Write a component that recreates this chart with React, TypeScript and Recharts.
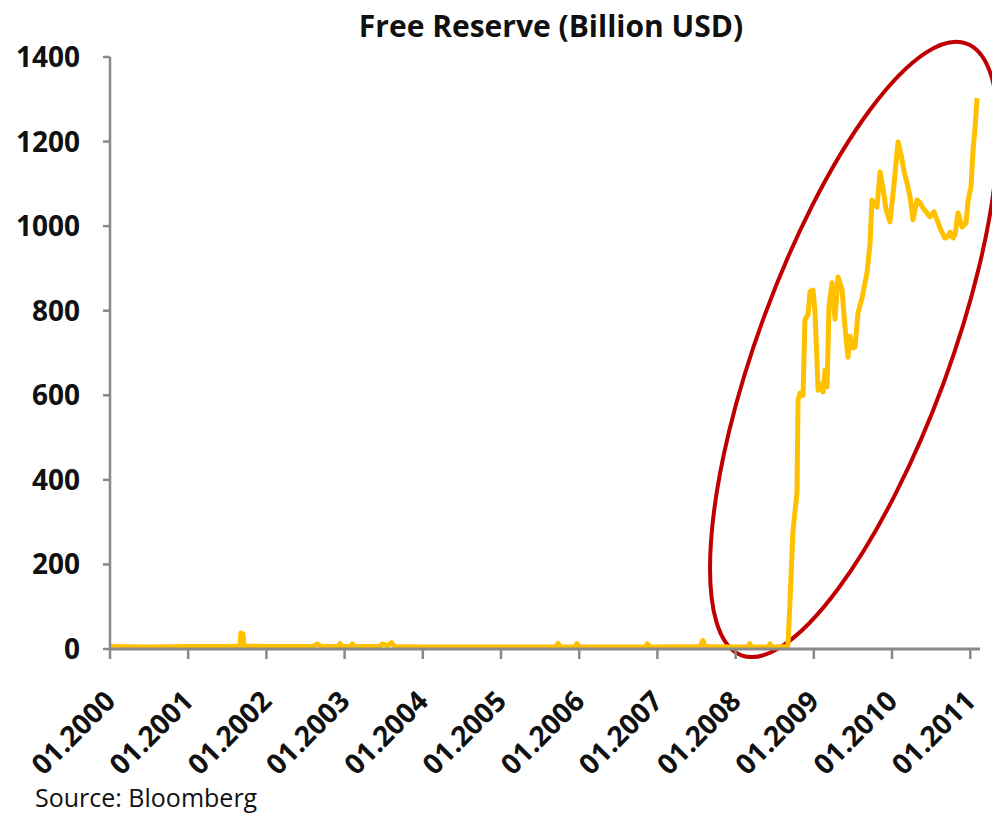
import React from "react";
import { LineChart, Line, XAxis, YAxis, ReferenceArea } from "recharts";

// time in decimal years, free reserves in billion USD
const years = [
  2000.0, 2000.5, 2001.0, 2001.5, 2001.66, 2001.675, 2001.7, 2001.715, 2002.0,
  2002.6, 2002.65, 2002.7, 2002.92, 2002.94, 2002.97, 2003.08, 2003.1, 2003.12,
  2003.46, 2003.48, 2003.55, 2003.6, 2003.64, 2004.0, 2005.0, 2005.7, 2005.73,
  2005.76, 2005.95, 2005.97, 2006.0, 2006.85, 2006.87, 2006.9, 2007.55, 2007.58,
  2007.61, 2008.0, 2008.16, 2008.18, 2008.2, 2008.42, 2008.44, 2008.46, 2008.66,
  2008.67, 2008.696, 2008.734, 2008.785, 2008.798, 2008.824, 2008.862, 2008.887,
  2008.926, 2008.951, 2008.99, 2009.015, 2009.041, 2009.054, 2009.092, 2009.118,
  2009.143, 2009.169, 2009.194, 2009.233, 2009.271, 2009.309, 2009.361, 2009.399,
  2009.437, 2009.463, 2009.501, 2009.527, 2009.565, 2009.616, 2009.68, 2009.719,
  2009.744, 2009.783, 2009.808, 2009.847, 2009.885, 2009.923, 2009.974, 2010.026,
  2010.077, 2010.115, 2010.153, 2010.192, 2010.23, 2010.269, 2010.32, 2010.358,
  2010.396, 2010.435, 2010.486, 2010.537, 2010.575, 2010.627, 2010.678, 2010.716,
  2010.742, 2010.78, 2010.806, 2010.844, 2010.895, 2010.908, 2010.946, 2010.972,
  2011.01, 2011.036, 2011.061, 2011.087,
];
const reserves = [
  6, 5, 6, 6, 7, 38, 36, 7, 6,
  6, 12, 6, 6, 13, 6, 6, 12, 6,
  6, 12, 8, 15, 6, 5, 5, 5, 13,
  5, 5, 13, 5, 5, 12, 5, 6, 20,
  6, 5, 5, 13, 5, 5, 12, 5, 6,
  8, 116, 281, 369, 589, 605, 600, 780,
  790, 845, 849, 795, 680, 612, 625, 608,
  660, 620, 810, 866, 780, 880, 850, 760,
  690, 740, 712, 714, 795, 830, 889, 960,
  1062, 1050, 1045, 1128, 1090, 1040, 1010, 1100,
  1199, 1170, 1130, 1102, 1070, 1015, 1062, 1055,
  1043, 1034, 1022, 1034, 1015, 990, 972, 975,
  986, 972, 980, 1031, 998, 1000, 1007, 1060,
  1093, 1180, 1230, 1303,
];

const xTicks = [2000, 2001, 2002, 2003, 2004, 2005, 2006, 2007, 2008, 2009, 2010, 2011];
const yTicks = [0, 200, 400, 600, 800, 1000, 1200, 1400];

// red ring annotation: bounding box in data units, tilt of its long axis in degrees
const ringYears = [2007.673, 2011.355];
const ringValues = [-19, 1436];
const ringTilt = 20.2;

const data = years.map((t, i) => ({ t, v: reserves[i] }));

const FONT = "'Open Sans', Lato, sans-serif";
const AXIS_GREY = "#898989";

const XTick = ({ x, y, payload }: any) => {
  const ax = x + 7;
  const ay = y + 44;
  return (
    <text
      x={ax}
      y={ay}
      transform={`rotate(-45 ${ax} ${ay})`}
      textAnchor="end"
      fontFamily={FONT}
      fontWeight={700}
      fontSize={28}
      fill="#111"
    >
      {`01.${payload.value}`}
    </text>
  );
};

const Ring = (props: any) => {
  const { x, y, width, height } = props;
  const cx = x + width / 2;
  const cy = y + height / 2;
  const W = width / 2;
  const H = height / 2;
  const r = (ringTilt * Math.PI) / 180;
  const c2 = Math.cos(r) ** 2;
  const s2 = Math.sin(r) ** 2;
  const a = Math.sqrt((H * H * c2 - W * W * s2) / (c2 - s2));
  const b = Math.sqrt((W * W * c2 - H * H * s2) / (c2 - s2));
  return (
    <ellipse
      cx={cx}
      cy={cy}
      rx={b}
      ry={a}
      transform={`rotate(${ringTilt} ${cx} ${cy})`}
      fill="none"
      stroke="#C00000"
      strokeWidth={4}
    />
  );
};

export default function App() {
  return (
    <div
      style={{
        position: "absolute",
        left: 0,
        top: 0,
        width: 992,
        height: 814,
        background: "#fff",
        fontFamily: FONT,
      }}
    >
      <div
        style={{
          position: "absolute",
          left: 0,
          width: 1102,
          top: 8,
          textAlign: "center",
          fontWeight: 700,
          fontSize: 30,
          color: "#111",
          lineHeight: "36px",
        }}
      >
        Free Reserve (Billion USD)
      </div>
      <LineChart
        width={992}
        height={814}
        data={data}
        margin={{ top: 57, right: 12, bottom: 0, left: 0 }}
      >
        <XAxis
          dataKey="t"
          type="number"
          domain={[2000, 2011.125]}
          ticks={xTicks}
          interval={0}
          allowDataOverflow
          height={165}
          tickSize={10}
          tickMargin={0}
          tick={<XTick />}
          axisLine={{ stroke: AXIS_GREY, strokeWidth: 3 }}
          tickLine={{ stroke: AXIS_GREY, strokeWidth: 2.5 }}
        />
        <YAxis
          type="number"
          domain={[0, 1400]}
          ticks={yTicks}
          interval={0}
          width={110}
          tickSize={7}
          tickMargin={23}
          tick={{ fontFamily: FONT, fontWeight: 700, fontSize: 28, fill: "#111" }}
          axisLine={{ stroke: AXIS_GREY, strokeWidth: 2.5 }}
          tickLine={{ stroke: AXIS_GREY, strokeWidth: 2.5 }}
        />
        <Line
          type="linear"
          dataKey="v"
          stroke="#FFC000"
          strokeWidth={5}
          strokeLinejoin="round"
          dot={false}
          activeDot={false}
          isAnimationActive={false}
        />
        <ReferenceArea
          x1={ringYears[0]}
          x2={ringYears[1]}
          y1={ringValues[0]}
          y2={ringValues[1]}
          ifOverflow="visible"
          shape={<Ring />}
        />
      </LineChart>
      <div
        style={{
          position: "absolute",
          left: 35,
          top: 782,
          fontSize: 25,
          color: "#111",
          lineHeight: "30px",
        }}
      >
        Source: Bloomberg
      </div>
    </div>
  );
}
